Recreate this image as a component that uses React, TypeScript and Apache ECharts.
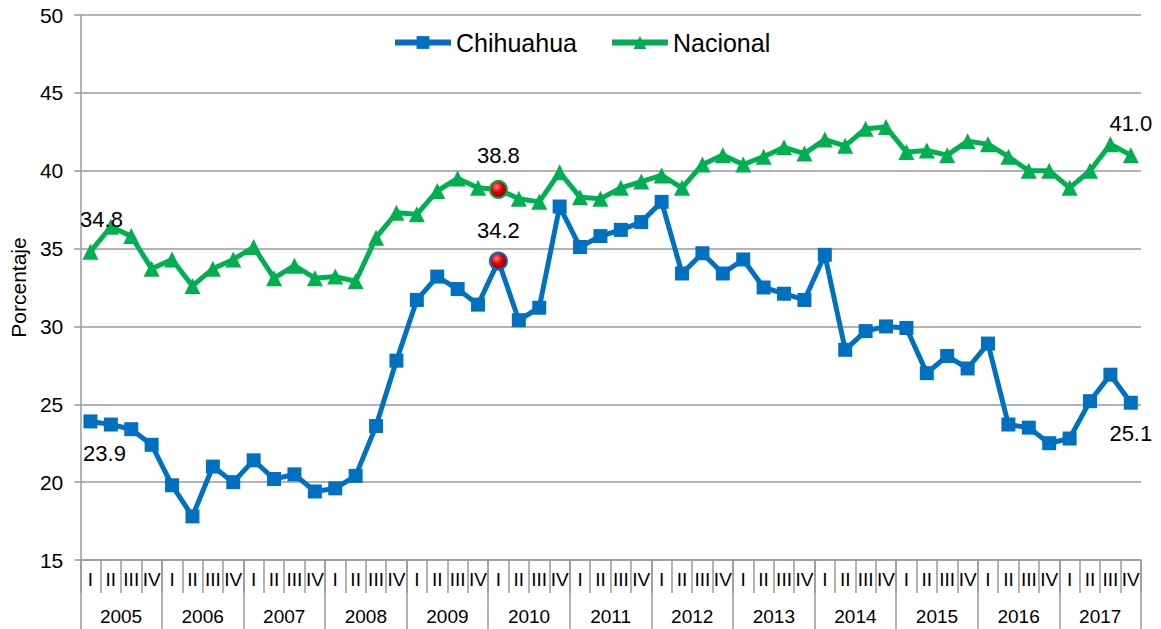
import React, { useEffect, useRef } from "react";
import * as echarts from "echarts";

const years = ["2005", "2006", "2007", "2008", "2009", "2010", "2011", "2012", "2013", "2014", "2015", "2016", "2017"];
const quarterNames = ["I", "II", "III", "IV"];
const quarters = years.flatMap(() => quarterNames);

const chihuahua = [
  23.9, 23.7, 23.4, 22.4, 19.8, 17.8, 21.0, 20.0, 21.4, 20.2, 20.5, 19.4, 19.6,
  20.4, 23.6, 27.8, 31.7, 33.2, 32.4, 31.4, 34.2, 30.4, 31.2, 37.7, 35.1, 35.8,
  36.2, 36.7, 38.0, 33.4, 34.7, 33.4, 34.3, 32.5, 32.1, 31.7, 34.6, 28.5, 29.7,
  30.0, 29.9, 27.0, 28.1, 27.3, 28.9, 23.7, 23.5, 22.5, 22.8, 25.2, 26.9, 25.1,
];
const nacional = [
  34.8, 36.4, 35.8, 33.7, 34.3, 32.6, 33.7, 34.3, 35.1, 33.1, 33.9, 33.1, 33.2,
  32.9, 35.7, 37.3, 37.2, 38.7, 39.5, 38.9, 38.8, 38.2, 38.0, 39.9, 38.3, 38.2,
  38.9, 39.3, 39.7, 38.9, 40.4, 41.0, 40.4, 40.9, 41.5, 41.1, 42.0, 41.6, 42.7,
  42.8, 41.2, 41.3, 41.0, 41.9, 41.7, 40.9, 40.0, 40.0, 38.9, 40.0, 41.7, 41.0,
];
const highlightIndex = 20;
const labeledChihuahua = [0, 20, 51];
const labeledNacional = [0, 20, 51];

const FONT = "'Liberation Sans', Arial, sans-serif";
const BLUE = "#0070C0";
const GREEN = "#00B050";
const GRID = "#9a9a9a";

const redBall = new echarts.graphic.RadialGradient(0.4, 0.35, 0.65, [
  { offset: 0, color: "#ff7a7a" },
  { offset: 0.5, color: "#e00000" },
  { offset: 1, color: "#8a0000" },
]);

function buildData(
  values: number[],
  labeled: number[],
  color: string,
  below: (i: number) => boolean,
  offsets: Record<number, number[]>
) {
  return values.map((v, i) => {
    const item: any = { value: v };
    if (labeled.includes(i)) {
      item.label = {
        show: true,
        position: below(i) ? "bottom" : "top",
        offset: offsets[i] || [0, 0],
        formatter: (p: any) => Number(p.value).toFixed(1),
        fontSize: 22,
        color: "#000",
        fontFamily: FONT,
      };
    }
    if (i === highlightIndex) {
      item.symbol = "circle";
      item.symbolSize = 17;
      item.itemStyle = { color: redBall, borderColor: color, borderWidth: 2 };
    }
    return item;
  });
}

export default function App() {
  const ref = useRef<HTMLDivElement>(null);
  useEffect(() => {
    document.body.style.margin = "0";
    if (!ref.current) return;
    const chart = echarts.init(ref.current, undefined, { renderer: "svg" });
    const option: any = {
      animation: false,
      backgroundColor: "#ffffff",
      textStyle: { fontFamily: FONT },
      grid: { left: 79, right: 20, top: 15, bottom: 69, containLabel: false },
      legend: {
        left: 387,
        top: 25,
        itemWidth: 56,
        itemHeight: 16,
        itemGap: 32,
        lineStyle: { width: 6 },
        textStyle: { fontSize: 25, color: "#000", fontFamily: FONT },
        data: ["Chihuahua", "Nacional"],
      },
      xAxis: [
        {
          type: "category",
          data: quarters,
          boundaryGap: true,
          axisLine: { show: true, lineStyle: { color: GRID, width: 1.5 } },
          axisTick: { show: true, length: 33, interval: 0, lineStyle: { color: GRID, width: 1.5 } },
          axisLabel: { interval: 0, fontSize: 19, color: "#000", margin: 10, fontFamily: FONT },
          splitLine: { show: false },
        },
        {
          type: "category",
          data: years,
          position: "bottom",
          boundaryGap: true,
          axisLine: { show: false },
          axisTick: { show: true, length: 69, interval: 0, lineStyle: { color: GRID, width: 1.5 } },
          axisLabel: { interval: 0, fontSize: 19, color: "#000", margin: 47, fontFamily: FONT },
          splitLine: { show: false },
        },
      ],
      yAxis: {
        type: "value",
        min: 15,
        max: 50,
        interval: 5,
        name: "Porcentaje",
        nameLocation: "middle",
        nameRotate: 90,
        nameGap: 50,
        nameTextStyle: { fontSize: 21, color: "#000", fontFamily: FONT },
        axisLine: { show: true, lineStyle: { color: GRID, width: 1.5 } },
        axisTick: { show: true, length: 6, lineStyle: { color: GRID, width: 1.5 } },
        axisLabel: { fontSize: 21, color: "#000", margin: 17, fontFamily: FONT },
        splitLine: { show: true, lineStyle: { color: GRID, width: 1.5 } },
      },
      series: [
        {
          name: "Chihuahua",
          type: "line",
          xAxisIndex: 0,
          data: buildData(chihuahua, labeledChihuahua, BLUE, (i) => i !== highlightIndex, {
            0: [14, 9],
            20: [0, -5],
            51: [0, 8],
          }),
          symbol: "rect",
          symbolSize: 14,
          lineStyle: { color: BLUE, width: 5 },
          itemStyle: { color: BLUE },
          z: 3,
        },
        {
          name: "Nacional",
          type: "line",
          xAxisIndex: 0,
          data: buildData(nacional, labeledNacional, GREEN, () => false, {
            0: [11, -8],
            20: [0, -8],
            51: [0, -8],
          }),
          symbol: "triangle",
          symbolSize: 16,
          lineStyle: { color: GREEN, width: 5 },
          itemStyle: { color: GREEN },
          z: 3,
        },
      ],
    };
    chart.setOption(option);
    return () => chart.dispose();
  }, []);
  return <div ref={ref} style={{ width: 1161, height: 629 }} />;
}
